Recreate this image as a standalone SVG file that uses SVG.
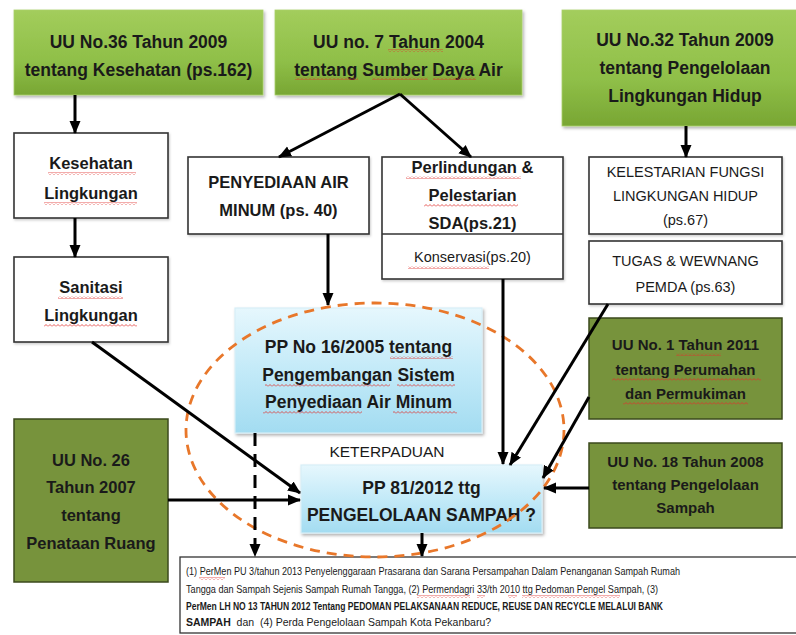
<svg xmlns="http://www.w3.org/2000/svg" width="796" height="635" viewBox="0 0 796 635">
<style>
  text { font-family: "Liberation Sans", Arial, sans-serif; fill: #1a1a1a; text-anchor: middle; }
  .b { font-weight: bold; }
  .big { font-size: 17.5px; font-weight: bold; }
  .mid { font-size: 16.5px; font-weight: bold; }
  .reg { font-size: 14.5px; }
  .olive-t { font-size: 15px; font-weight: bold; }
  .small { font-size: 10.5px; text-anchor: start; white-space: pre; }
  .green { fill: url(#gGreen); stroke: #a9cf6a; stroke-width: 0.8; filter: url(#sh); }
  .olive { fill: #77933c; stroke: #3b4a1c; stroke-width: 1.5; }
  .white { fill: #ffffff; stroke: #333333; stroke-width: 1.6; filter: url(#sh2); }
  .blue { fill: url(#gBlue); stroke: #d7eef7; stroke-width: 1.2; filter: url(#sh); }
  .arr { stroke: #000; stroke-width: 3; fill: none; marker-end: url(#ah); }
  .dash { stroke: #000; stroke-width: 3; fill: none; stroke-dasharray: 13 8; marker-end: url(#ah); }
  .sq { fill: url(#wavy); }
</style>
<defs>
  <linearGradient id="gGreen" x1="0" y1="0" x2="0" y2="1">
    <stop offset="0" stop-color="#a3cd5c"/>
    <stop offset="0.6" stop-color="#8fbf48"/>
    <stop offset="1" stop-color="#78a633"/>
  </linearGradient>
  <linearGradient id="gBlue" x1="0" y1="0" x2="0" y2="1">
    <stop offset="0" stop-color="#e6f7fd"/>
    <stop offset="0.5" stop-color="#c3eaf8"/>
    <stop offset="1" stop-color="#a3dcf1"/>
  </linearGradient>
  <pattern id="wavy" patternUnits="userSpaceOnUse" width="4" height="3">
    <path d="M0,2.5 L2,0.5 L4,2.5" fill="none" stroke="#e0302c" stroke-width="0.8"/>
  </pattern>
  <filter id="sh" x="-10%" y="-10%" width="125%" height="130%">
    <feDropShadow dx="1.5" dy="2" stdDeviation="1.5" flood-color="#000" flood-opacity="0.3"/>
  </filter>
  <filter id="sh2" x="-10%" y="-10%" width="125%" height="130%">
    <feDropShadow dx="1" dy="1.5" stdDeviation="1" flood-color="#000" flood-opacity="0.2"/>
  </filter>
  <marker id="ah" markerUnits="userSpaceOnUse" markerWidth="13" markerHeight="13" viewBox="0 0 13 13" refX="12" refY="6.5" orient="auto">
    <path d="M0,1 L13,6.5 L0,12 z" fill="#000"/>
  </marker>
</defs>
<rect width="796" height="635" fill="#ffffff"/>

<g id="n-uu36">
  <rect class="green" x="14" y="10" width="249" height="85"/>
  <text class="big" x="138.5" y="48">UU No.36 Tahun 2009</text>
  <text class="big" x="138.5" y="76">tentang Kesehatan (ps.162)</text>
</g>
<g id="n-uu7">
  <rect class="green" x="275" y="10" width="247" height="85"/>
  <text class="big" x="398.5" y="48">UU no. 7 Tahun 2004</text>
  <text class="big" x="398.5" y="76">tentang Sumber Daya Air</text>
</g>
<g id="n-uu32">
  <rect class="green" x="562" y="10" width="240" height="116"/>
  <text class="big" x="685" y="46">UU No.32 Tahun 2009</text>
  <text class="big" x="685" y="74">tentang Pengelolaan</text>
  <text class="big" x="685" y="102">Lingkungan Hidup</text>
</g>
<g id="n-kesling">
  <rect class="white" x="14" y="133" width="154" height="85"/>
  <text class="mid" x="91" y="169">Kesehatan</text>
  <text class="mid" x="91" y="199">Lingkungan</text>
</g>
<g id="n-sanling">
  <rect class="white" x="14" y="257" width="154" height="85"/>
  <text class="mid" x="91" y="293">Sanitasi</text>
  <text class="mid" x="91" y="321">Lingkungan</text>
</g>
<g id="n-penyediaan">
  <rect class="white" x="188" y="157" width="181" height="77"/>
  <text class="mid" x="278.5" y="188">PENYEDIAAN AIR</text>
  <text class="mid" x="278.5" y="216">MINUM (ps. 40)</text>
</g>
<g id="n-perlindungan">
  <rect class="white" x="382" y="157" width="181" height="122"/>
  <line x1="382" y1="234" x2="563" y2="234" stroke="#333" stroke-width="1.4"/>
  <text class="mid" x="472.5" y="173">Perlindungan &amp;</text>
  <text class="mid" x="472.5" y="201">Pelestarian</text>
  <text class="mid" x="472.5" y="229">SDA(ps.21)</text>
  <text class="reg" x="472.5" y="262" font-size="15">Konservasi(ps.20)</text>
</g>
<g id="n-kelestarian">
  <rect class="white" x="589" y="157" width="193" height="77"/>
  <text class="reg" x="685.5" y="177">KELESTARIAN FUNGSI</text>
  <text class="reg" x="685.5" y="201">LINGKUNGAN HIDUP</text>
  <text class="reg" x="685.5" y="225">(ps.67)</text>
</g>
<g id="n-tugas">
  <rect class="white" x="589" y="241" width="193" height="63"/>
  <text class="reg" x="685.5" y="266">TUGAS &amp; WEWNANG</text>
  <text class="reg" x="685.5" y="292">PEMDA (ps.63)</text>
</g>
<g id="n-uu1">
  <rect class="olive" x="589" y="318" width="193" height="101"/>
  <text class="olive-t" x="685.5" y="350">UU No. 1 Tahun 2011</text>
  <text class="olive-t" x="685.5" y="375">tentang Perumahan</text>
  <text class="olive-t" x="685.5" y="399">dan Permukiman</text>
</g>
<g id="n-uu18">
  <rect class="olive" x="589" y="443" width="193" height="85"/>
  <text class="olive-t" x="685.5" y="467">UU No. 18 Tahun 2008</text>
  <text class="olive-t" x="685.5" y="490">tentang Pengelolaan</text>
  <text class="olive-t" x="685.5" y="513">Sampah</text>
</g>
<g id="n-uu26">
  <rect class="olive" x="14" y="419" width="154" height="163"/>
  <text class="mid" x="91" y="466">UU No. 26</text>
  <text class="mid" x="91" y="493">Tahun 2007</text>
  <text class="mid" x="91" y="521">tentang</text>
  <text class="mid" x="91" y="549">Penataan Ruang</text>
</g>
<g id="n-pp16">
  <rect class="blue" x="235" y="308" width="247" height="125"/>
  <text class="big" x="358.5" y="353">PP No 16/2005 tentang</text>
  <text class="big" x="358.5" y="381">Pengembangan Sistem</text>
  <text class="big" x="358.5" y="408">Penyediaan Air Minum</text>
</g>
<g id="n-keterpaduan">
  <text x="387" y="457" font-size="15.5">KETERPADUAN</text>
</g>
<g id="n-pp81">
  <rect class="blue" x="301" y="465" width="241" height="68"/>
  <text class="big" x="421.5" y="494">PP 81/2012 ttg</text>
  <text class="big" x="421.5" y="521" font-size="16.5">PENGELOLAAN SAMPAH ?</text>
</g>
<g id="n-permen">
  <rect x="180" y="557" width="630" height="76" fill="#fff" stroke="#333" stroke-width="1.3"/>
  <text class="small" x="186" y="575" textLength="494" lengthAdjust="spacingAndGlyphs">(1) PerMen PU 3/tahun 2013 Penyelenggaraan Prasarana dan Sarana Persampahan Dalam Penanganan Sampah Rumah</text>
  <text class="small" x="186" y="593" textLength="472" lengthAdjust="spacingAndGlyphs">Tangga dan Sampah Sejenis Sampah Rumah Tangga, (2) Permendagri 33/th 2010 ttg Pedoman Pengel Sampah, (3)</text>
  <text class="small b" x="186" y="610" textLength="477" lengthAdjust="spacingAndGlyphs">PerMen LH NO 13 TAHUN 2012 Tentang PEDOMAN PELAKSANAAN REDUCE, REUSE DAN RECYCLE MELALUI BANK</text>
  <text class="small" x="186" y="626" font-size="9.5"><tspan font-weight="bold">SAMPAH</tspan>  dan  (4) Perda Pengelolaan Sampah Kota Pekanbaru?</text>
</g>

<g id="spellmarks">
  <rect class="sq" x="388" y="49" width="55" height="3"/>
  <rect class="sq" x="295" y="77" width="63" height="3"/>
  <rect class="sq" x="372" y="77" width="56" height="3"/>
  <rect class="sq" x="433" y="77" width="43" height="3"/>
  <rect class="sq" x="48" y="172" width="88" height="3"/>
  <rect class="sq" x="44" y="202" width="93" height="3"/>
  <rect class="sq" x="58" y="296" width="65" height="3"/>
  <rect class="sq" x="44" y="324" width="93" height="3"/>
  <rect class="sq" x="406" y="176" width="115" height="3"/>
  <rect class="sq" x="424" y="204" width="94" height="3"/>
  <rect class="sq" x="408" y="266" width="81" height="3"/>
  <rect class="sq" x="390" y="356" width="63" height="3"/>
  <rect class="sq" x="265" y="384" width="125" height="3"/>
  <rect class="sq" x="397" y="384" width="58" height="3"/>
  <rect class="sq" x="263" y="411" width="99" height="3"/>
  <rect class="sq" x="393" y="411" width="64" height="3"/>
  <rect class="sq" x="676" y="353" width="45" height="3"/>
  <rect class="sq" x="612" y="378" width="149" height="3"/>
  <rect class="sq" x="623" y="402" width="125" height="3"/>
  <rect class="sq" x="199" y="577" width="26" height="3"/>
  <rect class="sq" x="417" y="595" width="53" height="3"/>
  <rect class="sq" x="477" y="595" width="8" height="3"/>
  <rect class="sq" x="508" y="595" width="9" height="3"/>
  <rect class="sq" x="522" y="595" width="98" height="3"/>
</g>

<ellipse id="n-ellipse" cx="375" cy="430" rx="189" ry="127" fill="none" stroke="#e8772a" stroke-width="2.8" stroke-dasharray="10 7"/>

<g id="connectors">
  <line class="arr" x1="75" y1="95" x2="75" y2="133"/>
  <line class="arr" x1="75" y1="218" x2="75" y2="257"/>
  <line class="arr" x1="400" y1="94" x2="279" y2="157"/>
  <line class="arr" x1="400" y1="94" x2="471" y2="157"/>
  <line class="arr" x1="686" y1="126" x2="686" y2="157"/>
  <line class="arr" x1="328" y1="234" x2="328" y2="305"/>
  <line class="arr" x1="92" y1="342" x2="300" y2="493"/>
  <line class="arr" x1="168" y1="500" x2="300" y2="500"/>
  <line class="arr" x1="503" y1="279" x2="503" y2="464"/>
  <line class="arr" x1="608" y1="304" x2="510" y2="465"/>
  <line class="arr" x1="589" y1="397" x2="543" y2="478"/>
  <line class="arr" x1="589" y1="488" x2="544" y2="488"/>
  <line class="dash" x1="255" y1="433" x2="255" y2="556"/>
  <line class="arr" x1="422" y1="533" x2="422" y2="556"/>
</g>
</svg>
